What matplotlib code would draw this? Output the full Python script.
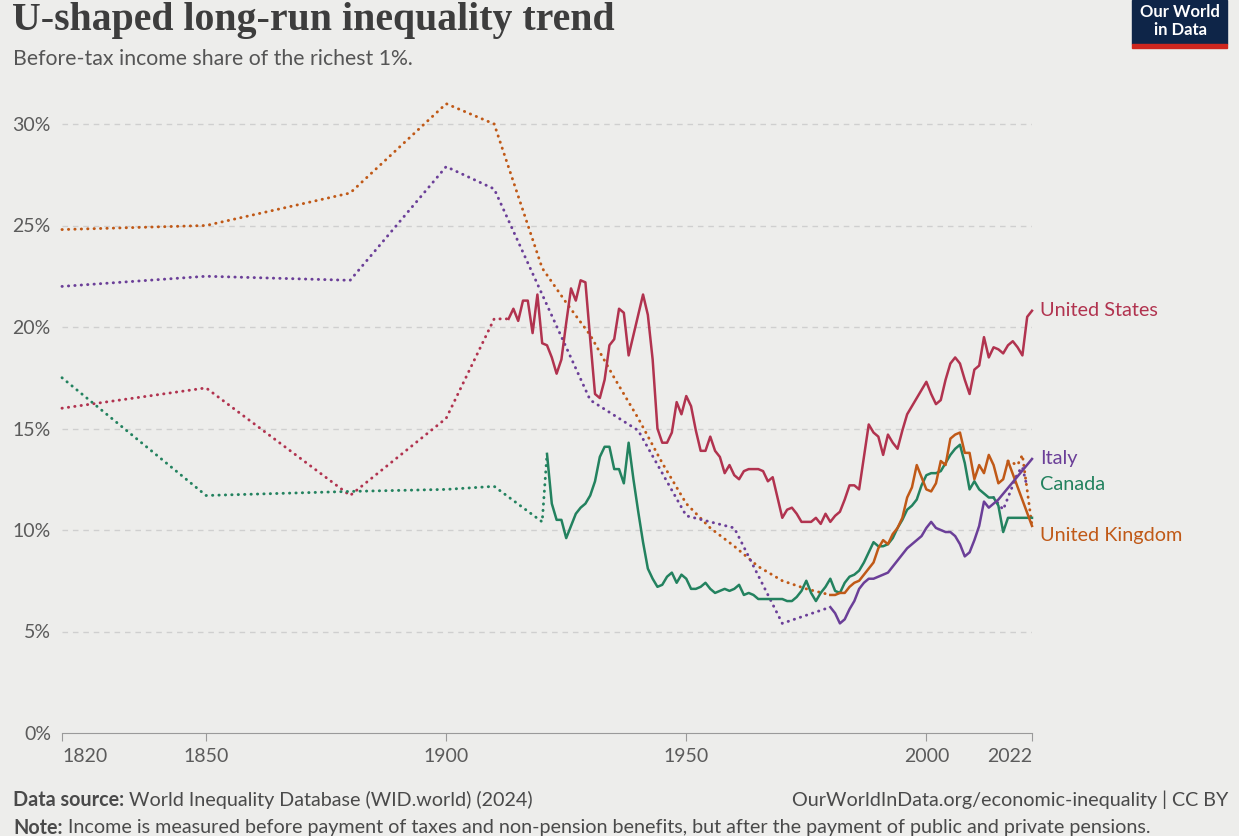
import matplotlib.pyplot as plt
from matplotlib.patches import Rectangle

# ---- data (share of pre-tax income held by the top 1%, in %) ----
us_dot_years = [1820, 1850, 1880, 1900, 1910, 1913]
us_dot_vals = [16.0, 17.0, 11.7, 15.5, 20.4, 20.4]
us_years = list(range(1913, 2023))
us_vals = [20.4, 20.9, 20.3, 21.3, 21.3, 19.7, 21.6, 19.2, 19.1, 18.5,
           17.7, 18.4, 20.2, 21.9, 21.3, 22.3, 22.2, 19.4, 16.7, 16.5,
           17.4, 19.1, 19.4, 20.9, 20.7, 18.6, 19.6, 20.6, 21.6, 20.6,
           18.4, 15.0, 14.3, 14.3, 14.8, 16.3, 15.7, 16.6, 16.1, 14.9,
           13.9, 13.9, 14.6, 13.9, 13.6, 12.8, 13.2, 12.7, 12.5, 12.9,
           13.0, 13.0, 13.0, 12.9, 12.4, 12.6, 11.6, 10.6, 11.0, 11.1,
           10.8, 10.4, 10.4, 10.4, 10.6, 10.3, 10.8, 10.4, 10.7, 10.9,
           11.5, 12.2, 12.2, 12.0, 13.6, 15.2, 14.8, 14.6, 13.7, 14.7,
           14.3, 14.0, 14.9, 15.7, 16.1, 16.5, 16.9, 17.3, 16.7, 16.2,
           16.4, 17.4, 18.2, 18.5, 18.2, 17.4, 16.7, 17.9, 18.1, 19.5,
           18.5, 19.0, 18.9, 18.7, 19.1, 19.3, 19.0, 18.6, 20.5, 20.8]

uk_dot_years = [1820, 1850, 1880, 1900, 1910, 1920, 1925, 1930, 1935, 1940,
                1945, 1950, 1955, 1960, 1965, 1970, 1975, 1980]
uk_dot_vals = [24.8, 25.0, 26.6, 31.0, 30.0, 22.9, 21.2, 19.6, 17.5, 15.5,
               13.3, 11.3, 10.1, 9.2, 8.2, 7.5, 7.1, 6.8]
uk_years = list(range(1980, 2018)) + [2022]
uk_vals = [6.8, 6.8, 6.9, 6.9, 7.2, 7.4, 7.5, 7.8, 8.1, 8.4,
           9.1, 9.5, 9.3, 9.8, 10.1, 10.6, 11.6, 12.1, 13.2, 12.6,
           12.0, 11.9, 12.3, 13.4, 13.2, 14.5, 14.7, 14.8, 13.8, 13.8,
           12.5, 13.2, 12.8, 13.7, 13.2, 12.3, 12.5, 13.4, 10.2]
uk_tail_years = [2017, 2019, 2020, 2022]
uk_tail_vals = [13.4, 13.2, 13.7, 10.2]

it_dot_years = [1820, 1850, 1880, 1900, 1910, 1920, 1930, 1940, 1950, 1960,
                1970, 1980]
it_dot_vals = [22.0, 22.5, 22.3, 27.9, 26.8, 21.6, 16.4, 14.9, 10.7, 10.1,
               5.4, 6.2]
it_years = list(range(1980, 2016)) + [2022]
it_vals = [6.2, 5.9, 5.4, 5.6, 6.1, 6.5, 7.1, 7.4, 7.6, 7.6,
           7.7, 7.8, 7.9, 8.2, 8.5, 8.8, 9.1, 9.3, 9.5, 9.7,
           10.1, 10.4, 10.1, 10.0, 9.9, 9.9, 9.7, 9.3, 8.7, 8.9,
           9.5, 10.2, 11.4, 11.1, 11.3, 11.5, 13.5]
it_tail_years = [2014, 2016, 2019, 2020, 2021]
it_tail_vals = [11.6, 11.0, 12.8, 13.1, 12.1]

ca_dot_years = [1820, 1850, 1880, 1900, 1910, 1920, 1921]
ca_dot_vals = [17.5, 11.7, 11.9, 12.0, 12.15, 10.4, 13.75]
ca_years = list(range(1921, 2023))
ca_vals = [13.75, 11.3, 10.5, 10.5, 9.6, 10.2, 10.8, 11.1, 11.3, 11.7,
           12.4, 13.6, 14.1, 14.1, 13.0, 13.0, 12.3, 14.3, 12.5, 10.9,
           9.4, 8.1, 7.6, 7.2, 7.3, 7.7, 7.9, 7.4, 7.8, 7.6,
           7.1, 7.1, 7.2, 7.4, 7.1, 6.9, 7.0, 7.1, 7.0, 7.1,
           7.3, 6.8, 6.9, 6.8, 6.6, 6.6, 6.6, 6.6, 6.6, 6.6,
           6.5, 6.5, 6.7, 7.0, 7.5, 6.9, 6.5, 6.9, 7.2, 7.6,
           7.0, 6.9, 7.4, 7.7, 7.8, 8.0, 8.4, 8.9, 9.4, 9.2,
           9.2, 9.3, 9.6, 10.1, 10.5, 11.0, 11.2, 11.5, 12.2, 12.7,
           12.8, 12.8, 12.9, 13.3, 13.7, 14.0, 14.2, 13.3, 12.0, 12.4,
           12.0, 11.8, 11.6, 11.6, 11.2, 9.9, 10.6, 10.6, 10.6, 10.6,
           10.6, 10.6]

countries = ["United States", "Italy", "Canada", "United Kingdom"]
label_vals = [20.8, 13.5, 12.25, 9.75]
colors = ["#B1334F", "#6B3F98", "#23825F", "#C05917"]

y_ticks = [0, 5, 10, 15, 20, 25, 30]
x_ticks = [1820, 1850, 1900, 1950, 2000, 2022]

# ---- figure ----
W, H = 1239, 836
BG = "#EDEDEB"
TXT = "#4a4a4a"
plt.rcParams['font.family'] = ['Lato', 'DejaVu Sans']

fig = plt.figure(figsize=(W / 100, H / 100), dpi=100)
fig.patch.set_facecolor(BG)

def fx(px):
    return px / W

def fy(py):
    return 1 - py / H

ax = fig.add_axes([fx(62), fy(733), (1032 - 62) / W, (733 - 83.4) / H])
ax.set_facecolor(BG)
ax.set_xlim(1820, 2022)
ax.set_ylim(0, 32)

for v in y_ticks[1:]:
    ax.axhline(v, color="#cfcfcf", lw=1, ls=(0, (4, 3.5)), zorder=0)

dot = dict(lw=2.1, ls=(0, (0.1, 2.1)), dash_capstyle="round", clip_on=False)
solid = dict(lw=1.8, solid_joinstyle="round", clip_on=False)

us_c, it_c, ca_c, uk_c = colors
ax.plot(uk_dot_years, uk_dot_vals, color=uk_c, **dot)
ax.plot(it_dot_years, it_dot_vals, color=it_c, **dot)
ax.plot(us_dot_years, us_dot_vals, color=us_c, **dot)
ax.plot(ca_dot_years, ca_dot_vals, color=ca_c, **dot)
ax.plot(uk_tail_years, uk_tail_vals, color=uk_c, **dot)
ax.plot(it_tail_years, it_tail_vals, color=it_c, **dot)

ax.plot(us_years, us_vals, color=us_c, **solid)
ax.plot(ca_years, ca_vals, color=ca_c, **solid)
ax.plot(uk_years, uk_vals, color=uk_c, **solid)
ax.plot(it_years, it_vals, color=it_c, **solid)

for name, lv, c in zip(countries, label_vals, colors):
    ax.annotate(name, (2022, lv), xytext=(6, 0), textcoords="offset points",
                color=c, fontsize=14.3, va="center", ha="left",
                annotation_clip=False)

for s in ["top", "right", "left"]:
    ax.spines[s].set_visible(False)
ax.spines["bottom"].set_color("#9a9a9a")

ax.set_xticks(x_ticks)
ax.set_xticklabels([str(x) for x in x_ticks])
ax.set_yticks(y_ticks)
ax.set_yticklabels([f"{v}%" for v in y_ticks])
ax.tick_params(axis="x", length=6, color="#9a9a9a", labelsize=14,
               labelcolor="#5b5b5b", pad=5)
ax.tick_params(axis="y", length=0, labelsize=14, labelcolor="#5b5b5b",
               pad=8)
xl = ax.get_xticklabels()
xl[0].set_ha("left")
xl[-1].set_ha("right")

# ---- header ----
fig.text(fx(12), fy(2), "U-shaped long-run inequality trend",
         family=["Liberation Serif", "DejaVu Serif"], fontsize=28.6,
         fontweight="bold", color="#3d3d3d", va="top", ha="left")
fig.text(fx(13), fy(59), "Before-tax income share of the richest 1%.",
         fontsize=15.3, color="#555555", va="center", ha="left")

# logo
fig.patches.append(Rectangle((fx(1132), fy(44)), (1227 - 1132) / W, 44 / H,
                             transform=fig.transFigure, color="#0E2548"))
fig.patches.append(Rectangle((fx(1132), fy(48)), (1227 - 1132) / W, 4 / H,
                             transform=fig.transFigure, color="#CE261E"))
fig.text(fx(1180), fy(12), "Our World", color="white", fontsize=12,
         fontweight="bold", ha="center", va="center")
fig.text(fx(1180), fy(30), "in Data", color="white", fontsize=12,
         fontweight="bold", ha="center", va="center")

# ---- footer ----
FS = 14.2
src = fig.text(fx(13), fy(800), "Data source:", fontsize=FS,
               fontweight="bold", color=TXT, va="center", ha="left")
fig.canvas.draw()
bb = src.get_window_extent()
fig.text((bb.x1 + 5) / W, fy(800),
         "World Inequality Database (WID.world) (2024)",
         fontsize=FS, color=TXT, va="center", ha="left")
fig.text(fx(1228), fy(800), "OurWorldInData.org/economic-inequality | CC BY",
         fontsize=FS, color=TXT, va="center", ha="right")
note = fig.text(fx(13), fy(828), "Note:", fontsize=FS, fontweight="bold",
                color=TXT, va="center", ha="left")
fig.canvas.draw()
bb = note.get_window_extent()
fig.text((bb.x1 + 6) / W, fy(828),
         "Income is measured before payment of taxes and non-pension "
         "benefits, but after the payment of public and private pensions.",
         fontsize=FS, color=TXT, va="center", ha="left")

fig.savefig("out.png", dpi=100, facecolor=BG)
